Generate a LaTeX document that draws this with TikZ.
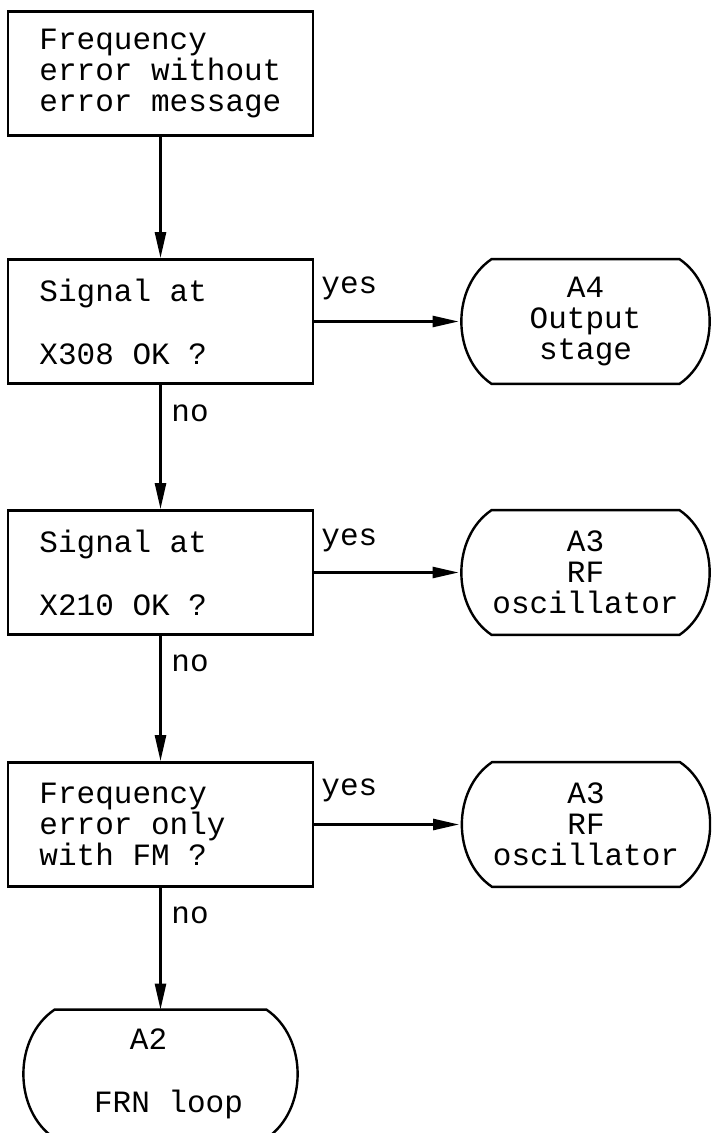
\documentclass[tikz,border=0pt]{standalone}
\usepackage{fontspec}
\setmainfont{Liberation Mono}[WordSpace={1,0,0}]
\usetikzlibrary{arrows.meta}
\tikzset{box/.style={draw,line width=1.4pt,align=left,text width=121pt,inner xsep=15.75pt,minimum height=62pt,execute at begin node={\spaceskip=.6em\relax}},
term/.style={align=center,minimum width=126.5pt,minimum height=62pt,inner sep=0pt},
edge/.style={-{Triangle[length=13pt,width=5.5pt]},line width=1.3pt},
lbl/.style={inner sep=0pt}}
\newcommand{\termline}[1]{\draw[line width=1.2pt] ([xshift=16.5pt]#1.north west) -- ([xshift=-16.5pt]#1.north east) to[out=-34,in=34] ([xshift=-16.5pt]#1.south east) -- ([xshift=16.5pt]#1.south west) to[out=146,in=214] cycle;}

\begin{document}
\begin{tikzpicture}[x=.5pt,y=-.5pt,font=\fontsize{15.5}{15.5}\selectfont]
\clip (0,0) rectangle (711,1133);
% checks, left column
\node[box] (err) at (160.5,73.5) {Frequency\\error without\\error message};
\node[box] (x308) at (160.5,321.5) {Signal at\\[16pt]X308 OK ?};
\node[box] (x210) at (160.5,572.5) {Signal at\\[16pt]X210 OK ?};
\node[box] (fm) at (160.5,824.5) {Frequency\\error only\\with FM ?};
% modules
\node[term] (a4) at (585.5,321.5) {A4\\Output\\stage};\termline{a4}
\node[term] (a3rf) at (585.5,572.5) {A3\\RF\\oscillator};\termline{a3rf}
\node[term] (a3fm) at (586,824.5) {A3\\RF\\oscillator};\termline{a3fm}
\node[term,minimum width=138.5pt,minimum height=64pt] (a2) at (160.5,1074) {A2\hspace*{12pt}\\[16pt]\hspace*{8pt}FRN loop};\termline{a2}
\draw[edge] (err)--(x308);\draw[edge] (x308)--(x210);
\draw[edge] (x210)--(fm);\draw[edge] (fm)--(a2);
\draw[edge] (x308)--(a4);\draw[edge] (x210)--(a3rf);\draw[edge] (fm)--(a3fm);
\node[lbl,anchor=west] (yes1) at (321,288) {yes};\node[lbl,anchor=west] (no1) at (171,413) {no};
\node[lbl,anchor=west] (yes2) at (321,540) {yes};\node[lbl,anchor=west] (no2) at (171,663) {no};
\node[lbl,anchor=west] (yes3) at (321,790) {yes};\node[lbl,anchor=west] (no3) at (171,915) {no};
\end{tikzpicture}
\end{document}
